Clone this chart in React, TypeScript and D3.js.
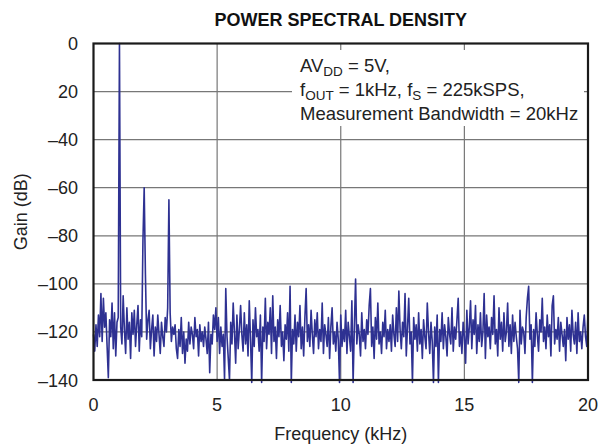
import { useMemo } from 'react'
import * as d3 from 'd3'

// frequency step of the spectrum trace, kHz
const stepKHz = 0.05

// Gain (dB), one value every 0.05 kHz from 0 to 20 kHz
const gainDb: number[] = [
  -121, -128, -117, -126, -113, -122, -104, -124, -106, -118, -112, -126, -139, -115, -122, -108, -127, -112, -130, -116,
  -114, 0, -118, -125, -105, -119, -129, -110, -123, -116, -131, -112, -121, -111, -126, -117, -109, -128, -115, -122,
  -82, -60, -96, -123, -115, -111, -127, -119, -113, -130, -118, -124, -113, -121, -129, -116, -122, -126, -114, -120,
  -110, -65, -112, -124, -118, -121, -117, -127, -131, -119, -126, -114, -129, -120, -133, -123, -128, -116, -125, -118,
  -121, -127, -114, -122, -119, -130, -117, -124, -120, -126, -118, -123, -129, -116, -137, -121, -125, -113, -119, -110,
  -124, -114, -129, -118, -126, -121, -140, -102, -122, -131, -140, -116, -125, -108, -120, -133, -113, -127, -119, -109,
  -121, -128, -112, -125, -117, -130, -107, -123, -141, -115, -126, -110, -122, -119, -128, -113, -141, -118, -124, -106,
  -127, -116, -121, -110, -129, -105, -124, -118, -131, -115, -122, -109, -126, -120, -132, -117, -123, -112, -128, -101,
  -141, -119, -125, -113, -128, -116, -122, -109, -127, -118, -130, -114, -102, -124, -117, -126, -111, -121, -129, -115,
  -122, -112, -127, -119, -124, -108, -129, -117, -121, -126, -114, -131, -118, -110, -125, -120, -128, -116, -123, -141,
  -113, -126, -119, -124, -111, -129, -116, -122, -128, -107, -141, -118, -98, -125, -117, -121, -130, -112, -124, -119,
  -127, -115, -121, -109, -102, -126, -118, -131, -114, -123, -108, -125, -120, -129, -116, -122, -111, -127, -119, -124,
  -117, -128, -113, -121, -126, -110, -124, -103, -119, -127, -116, -122, -104, -130, -118, -106, -125, -120, -141, -114,
  -123, -117, -128, -112, -125, -119, -131, -115, -122, -127, -108, -120, -129, -116, -124, -141, -118, -126, -113, -141,
  -119, -124, -112, -127, -117, -122, -130, -114, -121, -125, -110, -128, -118, -123, -115, -106, -126, -120, -129, -116,
  -122, -133, -111, -125, -118, -107, -127, -115, -121, -109, -129, -117, -124, -112, -126, -120, -104, -131, -113, -122,
  -118, -127, -114, -121, -105, -125, -119, -130, -110, -123, -116, -128, -112, -124, -120, -108, -126, -117, -129, -113,
  -124, -116, -122, -127, -141, -111, -125, -118, -120, -129, -114, -106, -101, -123, -117, -141, -119, -126, -112, -121,
  -128, -115, -120, -106, -124, -118, -127, -113, -122, -117, -130, -109, -105, -125, -119, -123, -114, -128, -116, -121,
  -126, -119, -132, -114, -123, -117, -128, -111, -121, -125, -116, -129, -112, -124, -120, -127, -118, -113, -122, -126,
  -112,
]

const xTicks = [0, 5, 10, 15, 20]
const yTicks = [0, -20, -40, -60, -80, -100, -120, -140]
// the original labels its -20 line as "20"
const yTickLabels = ['0', '20', '–40', '–60', '–80', '–100', '–120', '–140']

const W = 600
const H = 447
const margin = { top: 43.5, right: 12, bottom: 67, left: 93.5 }
const font = '"Liberation Sans", Arial, Helvetica, sans-serif'

export default function App() {
  const x = d3.scaleLinear().domain([0, 20]).range([margin.left, W - margin.right])
  const y = d3.scaleLinear().domain([-140, 0]).range([H - margin.bottom, margin.top])

  const path = useMemo(() => {
    const line = d3.line<number>()
      .x((_, i) => x(i * stepKHz))
      .y(d => y(d))
    return line(gainDb) || ''
  }, [])

  const [x0, x1] = x.range()
  const [y0, y1] = [y(-140), y(0)]

  return (
    <svg width={W} height={H} style={{ position: 'absolute', left: 0, top: 0, background: '#fff' }} fontFamily={font}>
      <text x={(x0 + x1) / 2} y={26} textAnchor="middle" fontWeight="bold" fontSize={18} fill="#111">
        POWER SPECTRAL DENSITY
      </text>

      {/* grid */}
      {xTicks.slice(1, -1).map(t => (
        <line key={'gx' + t} x1={x(t)} x2={x(t)} y1={y0} y2={y1} stroke="#777" strokeWidth={1.2} />
      ))}
      {yTicks.slice(1, -1).map(t => (
        <line key={'gy' + t} x1={x0} x2={x1} y1={y(t)} y2={y(t)} stroke="#777" strokeWidth={1.2} />
      ))}

      {/* legend box covers the grid */}
      <rect x={292} y={50} width={292} height={76} fill="#fff" />
      <g fontSize={18.5} fill="#222">
        <text x={300} y={72}>
          AV<tspan fontSize={13.5} dy={4}>DD</tspan><tspan dy={-4}> = 5V,</tspan>
        </text>
        <text x={300} y={96}>
          f<tspan fontSize={13.5} dy={4}>OUT</tspan><tspan dy={-4}> = 1kHz, f</tspan>
          <tspan fontSize={13.5} dy={4}>S</tspan><tspan dy={-4}> = 225kSPS,</tspan>
        </text>
        <text x={300} y={120}>Measurement Bandwidth = 20kHz</text>
      </g>

      <path d={path} fill="none" stroke="#2e3192" strokeWidth={1.6} strokeLinejoin="round" />

      {/* frame */}
      <rect x={x0} y={y1} width={x1 - x0} height={y0 - y1} fill="none" stroke="#1a1a1a" strokeWidth={2.2} />

      {/* ticks */}
      <g fontSize={18} fill="#222">
        {xTicks.map(t => (
          <text key={'tx' + t} x={x(t)} y={411} textAnchor="middle">{t}</text>
        ))}
        {yTicks.map((t, i) => (
          <text key={'ty' + t} x={78} y={y(t) + 6.5} textAnchor="end">{yTickLabels[i]}</text>
        ))}
        <text x={(x0 + x1) / 2} y={440} textAnchor="middle">Frequency (kHz)</text>
        <text transform={`translate(27,${(y0 + y1) / 2}) rotate(-90)`} textAnchor="middle">Gain (dB)</text>
      </g>
    </svg>
  )
}
